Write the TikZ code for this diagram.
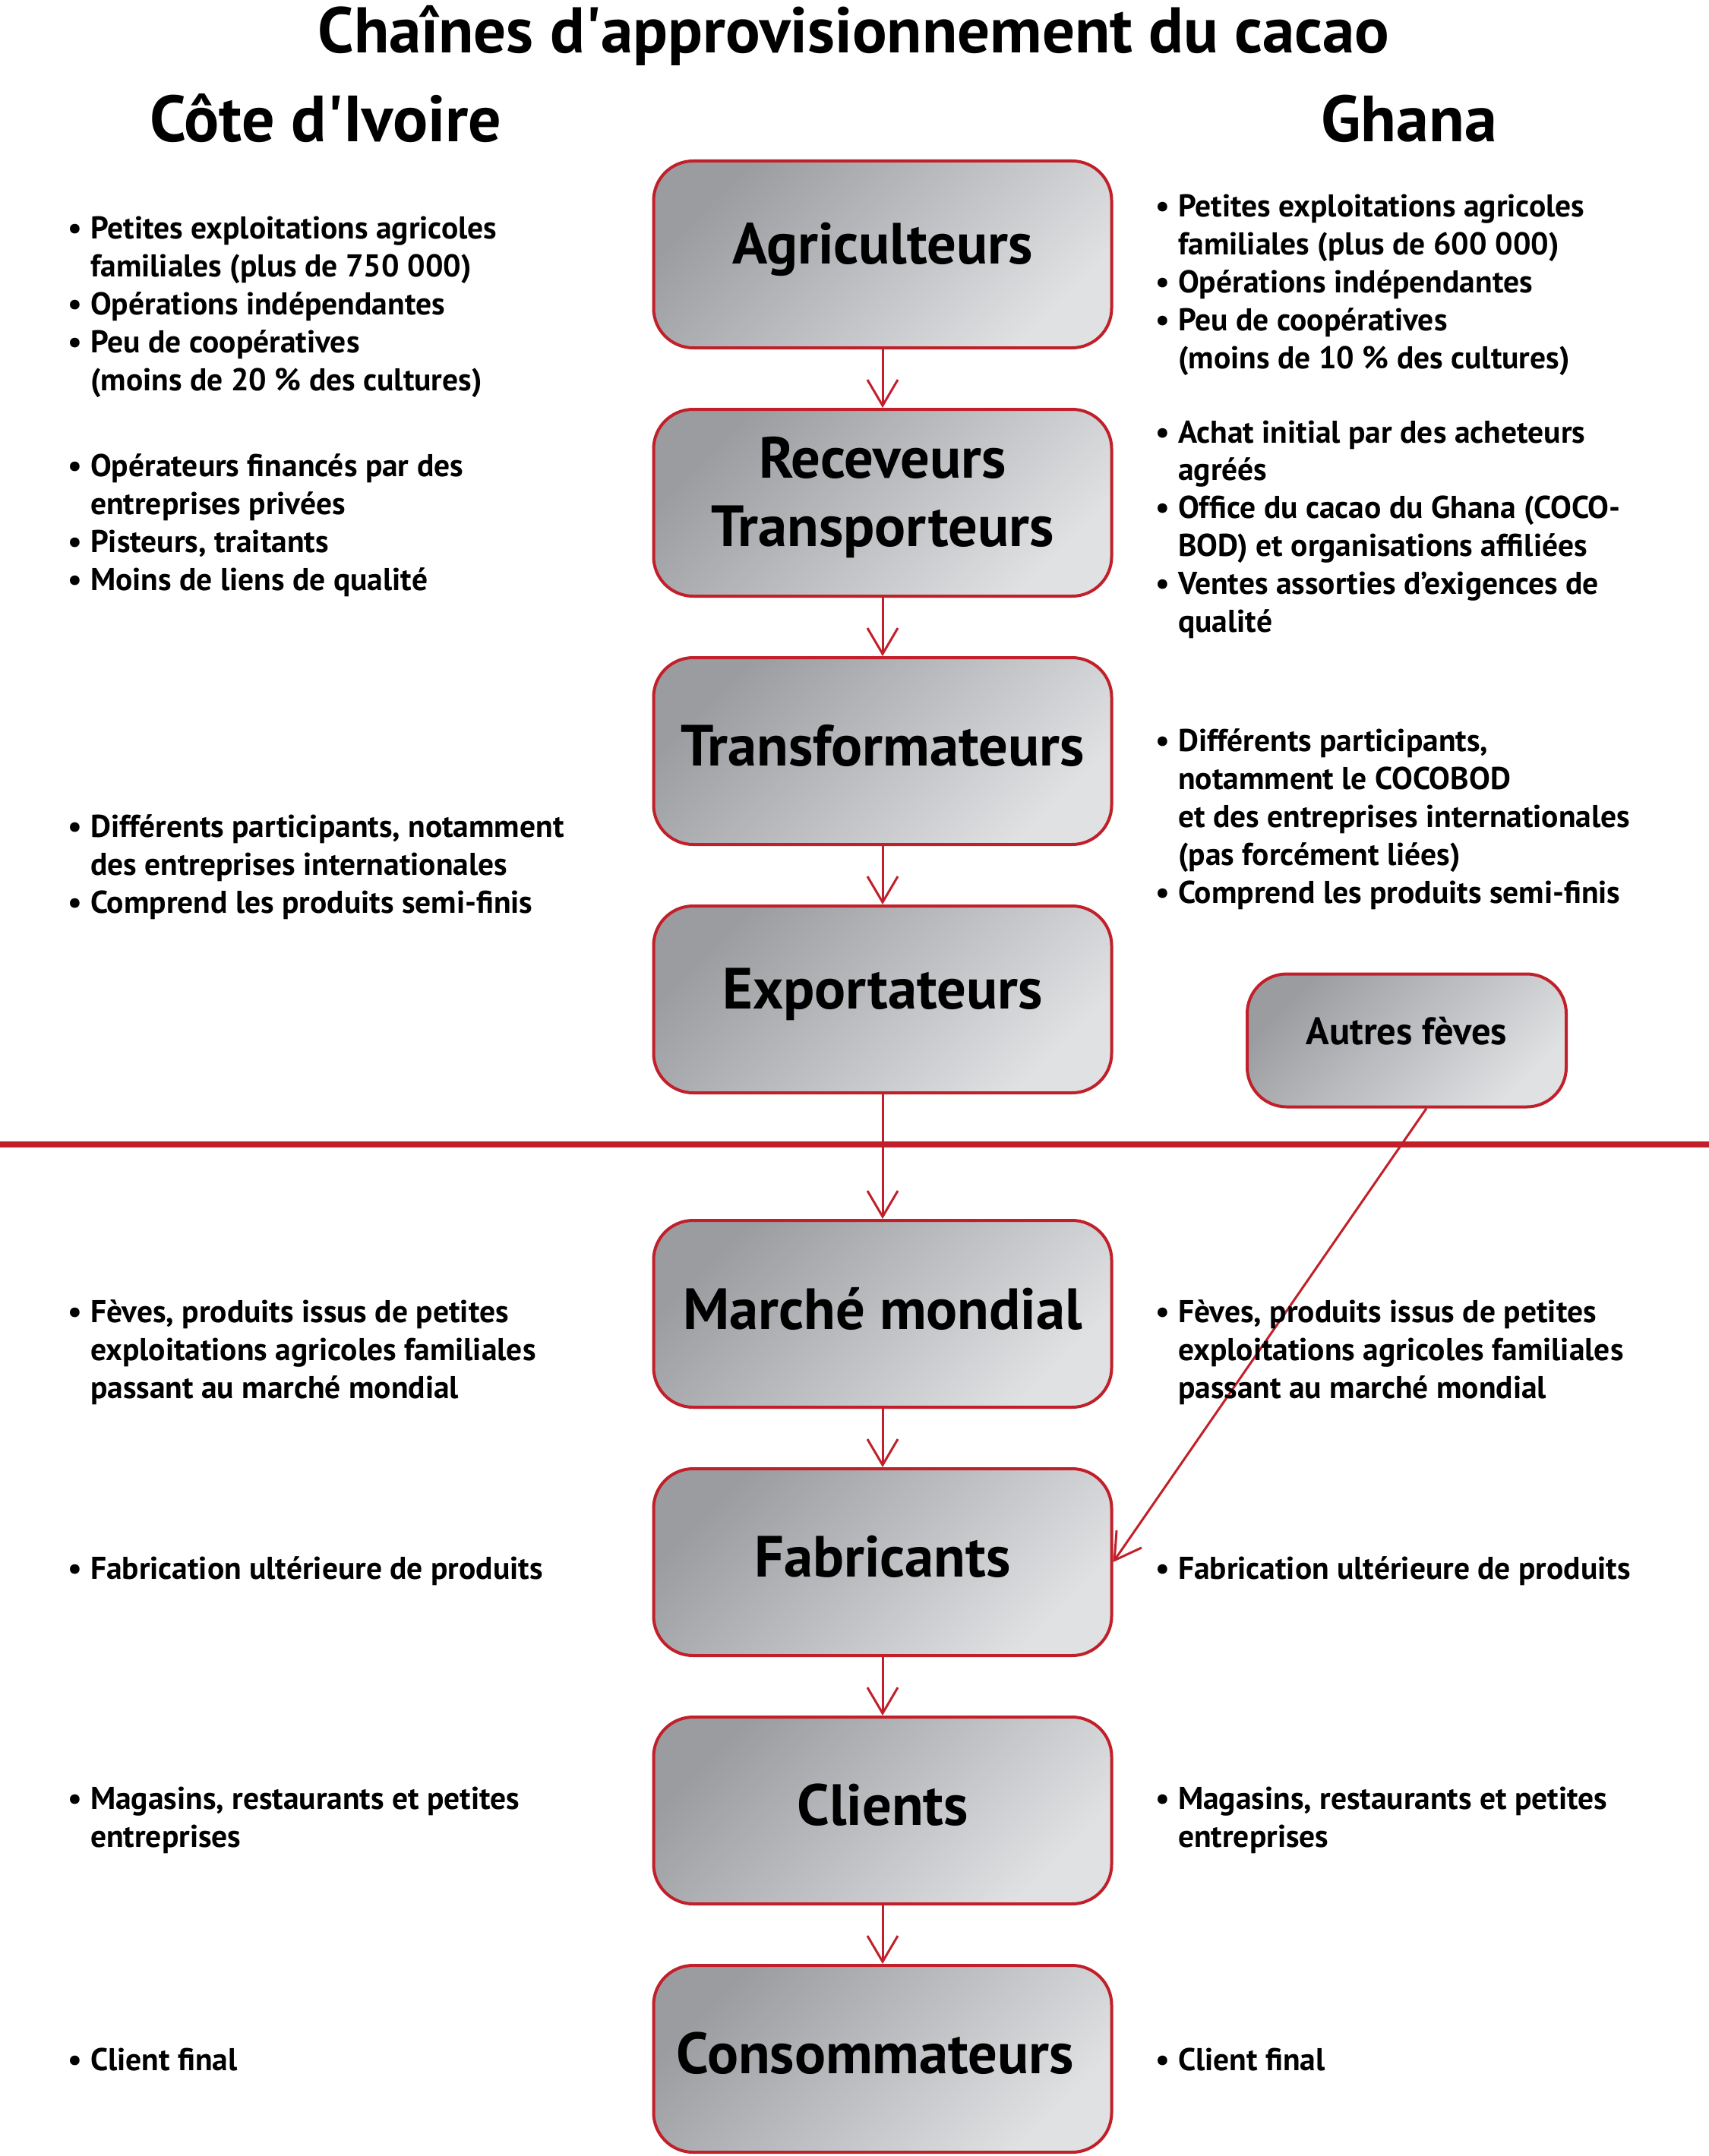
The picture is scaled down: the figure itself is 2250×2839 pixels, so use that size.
\documentclass[tikz,border=0pt]{standalone}
\usepackage{fontspec}
\setmainfont{PT Sans}[UprightFont=* Bold]
\usetikzlibrary{arrows.meta}

\definecolor{rouge}{HTML}{C1202A}
\definecolor{grisfonce}{HTML}{9B9CA0}
\definecolor{grisclair}{HTML}{E0E1E3}

\tikzset{
  etape/.style={draw=rouge, line width=4pt, rounded corners=52pt,
    top color=grisfonce, bottom color=grisclair, shading angle=45,
    minimum width=603pt, minimum height=246pt, align=center,
    font=\fontsize{76.5}{90}\selectfont},
  petiteetape/.style={etape, minimum width=420pt, minimum height=175pt,
    text depth=25pt, font=\fontsize{50.5}{60}\selectfont},
  puces/.style={anchor=base west, inner sep=0pt, align=left,
    font=\fontsize{41.5}{49.8}\selectfont},
  fleche/.style={draw=rouge, line width=3pt,
    -{Straight Barb[length=34pt,width=40pt]}}
}
\newcommand\puce{\makebox[30pt][l]{•}}
\newcommand\suite{\hspace*{30pt}}
\newcommand\leve[1]{\raisebox{7pt}[\height][\depth]{#1}}

\begin{document}
\begin{tikzpicture}[x=1pt,y=-1pt]
\useasboundingbox (0,0) rectangle (2250,2839);

% Titres
\node[anchor=base, inner sep=0pt, font=\fontsize{85}{95}\selectfont] (titre) at (1124,70) {Chaînes d\textquotesingle approvisionnement du cacao};
\node[anchor=base, inner sep=0pt, font=\fontsize{86}{95}\selectfont] (civ) at (429,187) {Côte d\textquotesingle Ivoire};
\node[anchor=base, inner sep=0pt, font=\fontsize{86}{95}\selectfont] (gha) at (1855,187) {Ghana};

% Etapes de la chaine
\foreach \n/\y/\txt in {
agri/335/{\leve{Agriculteurs}},
rece/662/{\leve{Receveurs}\\\leve{Transporteurs}},
trans/989/{\leve{Transformateurs}},
expo/1316/{\leve{Exportateurs}},
marche/1730/{\leve{Marché mondial}},
fab/2057/{\leve{Fabricants}},
cli/2384/{\leve{Clients}},
conso/2711/{\leve{Consommateurs}}
}
{
    \node[etape] (\n) at (1162,\y) {\txt};
}

\node[petiteetape] (autres) at (1852,1370) {Autres fèves};

% Separation
\draw[rouge, line width=8pt] (0,1507) -- (2250,1507);

% Fleches
\foreach \a/\b in {agri/rece, rece/trans, trans/expo, expo/marche, marche/fab, fab/cli, cli/conso}
{
    \draw[fleche] (\a.south) -- (\b.north);
}
\draw[fleche] ([xshift=26pt]autres.south) -- (fab.east);

% Cote d'Ivoire (ancre sur la derniere ligne)
\node[puces] (c1) at (89,514) {\puce Petites exploitations agricoles\\\suite familiales (plus de 750 000)\\\puce Opérations indépendantes\\\puce Peu de coopératives\\\suite (moins de 20 \% des cultures)};
\node[puces] (c2) at (89,777) {\puce Opérateurs financés par des\\\suite entreprises privées\\\puce Pisteurs, traitants\\\puce Moins de liens de qualité};
\node[puces] (c3) at (89,1202) {\puce Différents participants, notamment\\\suite des entreprises internationales\\\puce Comprend les produits semi-finis};
\node[puces] (c4) at (89,1841) {\puce Fèves, produits issus de petites\\\suite exploitations agricoles familiales\\\suite passant au marché mondial};
\node[puces] (c5) at (89,2079) {\puce Fabrication ultérieure de produits};
\node[puces] (c6) at (89,2432) {\puce Magasins, restaurants et petites\\\suite entreprises};
\node[puces] (c7) at (89,2726) {\puce Client final};

% Ghana
\node[puces] (g1) at (1521,485) {\puce Petites exploitations agricoles\\\suite familiales (plus de 600 000)\\\puce Opérations indépendantes\\\puce Peu de coopératives\\\suite (moins de 10 \% des cultures)};
\node[puces] (g2) at (1521,832) {\puce Achat initial par des acheteurs\\\suite agréés\\\puce Office du cacao du Ghana (COCO-\\\suite BOD) et organisations affiliées\\\puce Ventes assorties d’exigences de\\\suite qualité};
\node[puces] (g3) at (1521,1189) {\puce Différents participants,\\\suite notamment le COCOBOD\\\suite et des entreprises internationales\\\suite (pas forcément liées)\\\puce Comprend les produits semi-finis};
\node[puces] (g4) at (1521,1841) {\puce Fèves, produits issus de petites\\\suite exploitations agricoles familiales\\\suite passant au marché mondial};
\node[puces] (g5) at (1521,2079) {\puce Fabrication ultérieure de produits};
\node[puces] (g6) at (1521,2432) {\puce Magasins, restaurants et petites\\\suite entreprises};
\node[puces] (g7) at (1521,2726) {\puce Client final};

\end{tikzpicture}
\end{document}
